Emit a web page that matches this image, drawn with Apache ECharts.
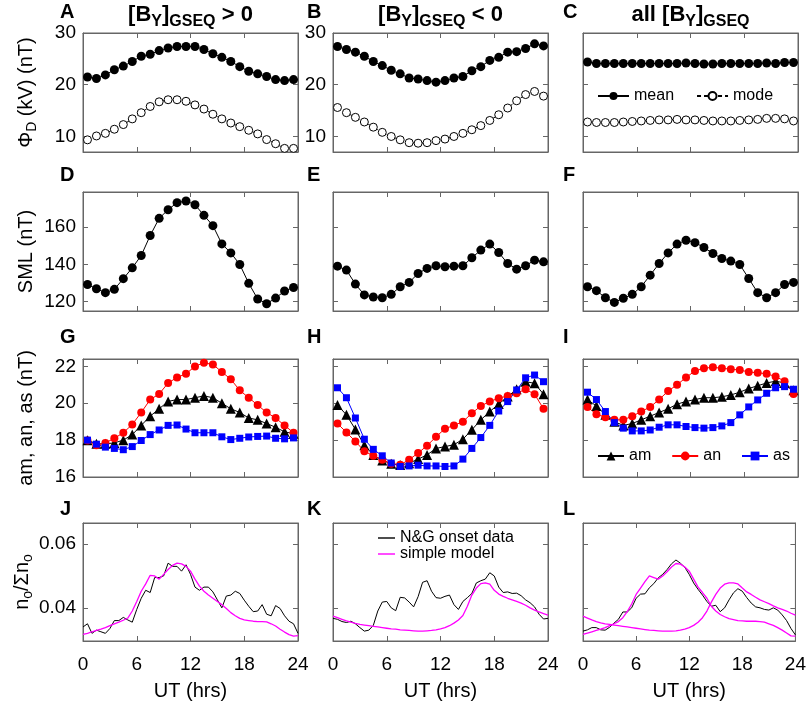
<!DOCTYPE html>
<html>
<head>
<meta charset="UTF-8">
<script src="https://cdn.jsdelivr.net/npm/echarts@6/dist/echarts.min.js"></script>
<style>
html,body{margin:0;padding:0;background:#fff;}
#chart{width:809px;height:705px;}
</style>
</head>
<body>
<div id="chart"></div>
<script>
// hour positions
var hourMid = [0.5,1.5,2.5,3.5,4.5,5.5,6.5,7.5,8.5,9.5,10.5,11.5,12.5,13.5,14.5,15.5,16.5,17.5,18.5,19.5,20.5,21.5,22.5,23.5];
var halfHour = [0,0.5,1,1.5,2,2.5,3,3.5,4,4.5,5,5.5,6,6.5,7,7.5,8,8.5,9,9.5,10,10.5,11,11.5,12,12.5,13,13.5,14,14.5,15,15.5,16,16.5,17,17.5,18,18.5,19,19.5,20,20.5,21,21.5,22,22.5,23,23.5,24];

// row 1: Phi_D mean / mode
var phiMeanPos = [21.5,21.2,21.9,22.9,23.6,24.5,25.5,25.9,26.6,27.1,27.4,27.4,27.4,26.8,26.0,25.3,24.5,23.5,22.6,22.1,21.6,21.0,20.8,21.0];
var phiModePos = [9.35,10.1,10.6,11.4,12.3,13.4,14.6,15.8,16.7,17.1,17.1,16.8,16.1,15.3,14.3,13.4,12.6,11.9,11.2,10.5,9.4,8.6,7.7,7.7];
var phiMeanNeg = [27.4,26.8,26.3,25.5,24.5,23.7,22.8,22.1,21.3,21.1,20.8,20.5,20.8,21.3,21.6,22.7,23.5,24.7,25.3,26.3,26.4,27.0,27.9,27.5];
var phiModeNeg = [15.6,14.6,13.7,12.8,11.8,10.8,10.0,9.35,8.8,8.7,8.8,9.2,9.5,10.0,10.6,11.3,12.1,13.1,14.2,15.5,16.9,18.1,18.7,17.8];
var phiMeanAll = [24.4,24.1,24.1,24.1,24.1,24.1,24.1,24.1,24.1,24.1,24.1,24.2,24.1,24.0,24.0,24.1,24.1,24.1,24.1,24.1,24.2,24.1,24.3,24.3];
var phiModeAll = [12.8,12.7,12.7,12.7,12.8,12.9,13.0,13.1,13.2,13.2,13.3,13.2,13.2,13.1,13.0,13.0,13.0,13.1,13.2,13.3,13.5,13.5,13.4,13.0];

// row 2: SML
var smlPos = [129.2,126.9,124.8,126.6,132.3,138.1,144.7,155.4,164.6,169.2,173.0,173.9,171.9,166.2,160.7,150.9,146.1,139.9,129.8,121.4,118.9,121.9,125.7,127.6];
var smlNeg = [139.0,136.9,129.4,123.6,122.5,122.1,123.9,128.0,130.3,135.1,137.8,139.2,138.7,139.0,139.2,143.5,147.6,150.8,146.3,140.4,137.4,139.2,142.2,141.3];
var smlAll = [128.0,125.9,122.1,119.6,121.8,123.9,128.0,134.2,140.4,146.1,150.8,152.9,151.6,149.0,145.8,143.1,141.7,139.9,132.4,124.8,122.1,124.8,129.2,130.3];

// row 3: am, an, as
var amPos = [18.0,17.8,17.8,17.85,18.0,18.3,18.8,19.3,19.7,20.1,20.2,20.2,20.3,20.4,20.3,20.0,19.7,19.5,19.2,19.1,18.9,18.7,18.45,18.35];
var anPos = [17.98,17.72,17.85,18.1,18.4,18.85,19.5,20.2,20.5,21.1,21.4,21.6,22.0,22.2,22.1,21.7,21.3,20.7,20.3,19.9,19.5,19.2,18.8,18.4];
var asPos = [18.0,17.78,17.62,17.55,17.48,17.65,17.98,18.3,18.55,18.8,18.82,18.6,18.4,18.4,18.4,18.18,18.03,18.1,18.17,18.2,18.22,18.1,18.07,18.12];
var amNeg = [19.9,19.37,18.58,17.72,17.2,16.9,16.72,16.65,16.75,16.97,17.2,17.55,17.65,17.75,18.05,18.56,19.1,19.55,19.96,20.36,20.76,21.17,21.08,20.49];
var anNeg = [18.9,18.42,17.93,17.4,17.15,16.94,16.72,16.66,16.94,17.3,17.7,18.18,18.62,18.8,19.0,19.46,19.85,20.1,20.27,20.4,20.54,20.76,20.49,19.7];
var asNeg = [20.84,20.3,19.2,18.05,17.5,17.15,16.76,16.57,16.6,16.64,16.6,16.6,16.57,16.6,16.97,17.55,18.14,18.8,19.58,20.09,20.72,21.38,21.53,21.17];
var amAll = [20.2,19.85,19.37,19.0,18.8,18.9,19.1,19.3,19.5,19.7,19.95,20.1,20.2,20.3,20.3,20.35,20.45,20.6,20.8,20.95,21.1,21.2,21.1,20.7];
var anAll = [19.8,19.4,19.24,19.1,19.1,19.3,19.55,19.8,20.2,20.66,21.0,21.4,21.75,21.9,21.95,21.9,21.85,21.8,21.7,21.65,21.6,21.45,21.2,20.5];
var asAll = [20.6,20.2,19.55,18.95,18.65,18.5,18.5,18.55,18.7,18.83,18.83,18.74,18.68,18.65,18.68,18.77,18.95,19.37,19.8,20.18,20.54,20.84,20.9,20.76];

// row 4: onset distributions (half-hour steps)
var ngPos = [0.034,0.035,0.032,0.033,0.0325,0.032,0.0335,0.036,0.036,0.037,0.0362,0.0355,0.0395,0.043,0.0455,0.0448,0.0495,0.0495,0.050,0.054,0.053,0.053,0.0515,0.0535,0.0505,0.0465,0.0455,0.0465,0.0465,0.045,0.0425,0.040,0.0437,0.044,0.0452,0.0445,0.0424,0.0405,0.0388,0.039,0.041,0.038,0.0375,0.0407,0.0398,0.0375,0.0358,0.035,0.032];
var modelPos = [0.0317,0.032,0.0325,0.0329,0.0333,0.0338,0.0344,0.035,0.0355,0.0361,0.0368,0.039,0.042,0.0452,0.0475,0.0502,0.050,0.049,0.0505,0.052,0.0533,0.054,0.0538,0.053,0.0515,0.049,0.0468,0.0452,0.044,0.043,0.042,0.041,0.0398,0.0385,0.0375,0.0367,0.0362,0.036,0.0358,0.0357,0.0357,0.0356,0.035,0.0343,0.0333,0.0324,0.0316,0.0311,0.0313];
var ngNeg = [0.0367,0.0364,0.0357,0.0354,0.0358,0.035,0.0338,0.0327,0.033,0.0345,0.039,0.0418,0.042,0.040,0.0391,0.0433,0.0431,0.0418,0.0403,0.0435,0.048,0.0485,0.0452,0.0432,0.043,0.0436,0.044,0.041,0.0395,0.042,0.0432,0.0445,0.0478,0.0485,0.049,0.051,0.050,0.0465,0.0448,0.045,0.0445,0.0446,0.0438,0.0425,0.0416,0.0403,0.038,0.0365,0.0367];
var modelNeg = [0.0374,0.0369,0.0364,0.0359,0.0355,0.0351,0.0348,0.0346,0.0344,0.0342,0.034,0.0338,0.0336,0.0334,0.0333,0.0331,0.033,0.0329,0.0328,0.0327,0.0327,0.0328,0.0329,0.0331,0.0334,0.0338,0.0344,0.0352,0.0362,0.0376,0.0405,0.044,0.0462,0.0476,0.0478,0.0474,0.0455,0.0443,0.0436,0.043,0.0425,0.042,0.0415,0.0408,0.04,0.0393,0.0387,0.0382,0.0377];
var ngAll = [0.0327,0.0331,0.0338,0.0338,0.0331,0.033,0.0339,0.0352,0.0364,0.0387,0.0387,0.040,0.043,0.0443,0.0444,0.0463,0.0476,0.0494,0.0505,0.052,0.0538,0.055,0.054,0.0527,0.0505,0.0478,0.0458,0.044,0.042,0.0405,0.0408,0.0388,0.040,0.0425,0.0447,0.046,0.0452,0.0432,0.0415,0.0403,0.040,0.0395,0.0393,0.040,0.0393,0.0378,0.036,0.0335,0.0315];
var modelAllPos = [0.0317,0.0321,0.0325,0.0329,0.0333,0.0338,0.0344,0.035,0.0357,0.0369,0.0388,0.0412,0.0442,0.0462,0.0482,0.050,0.0495,0.049,0.050,0.0513,0.0528,0.0539,0.0537,0.0528,0.0515,0.049,0.0465,0.0448,0.043,0.0405,0.039,0.0379,0.0372,0.0366,0.0363,0.036,0.0359,0.0358,0.0358,0.0358,0.0357,0.0355,0.035,0.0345,0.0338,0.033,0.0321,0.0312,0.0311];
var modelAllNeg = [0.0374,0.0368,0.0362,0.0357,0.0353,0.035,0.0348,0.0346,0.0344,0.0342,0.034,0.0338,0.0336,0.0334,0.0332,0.033,0.0329,0.0328,0.0327,0.0327,0.0327,0.0328,0.033,0.0333,0.0338,0.0345,0.0355,0.0369,0.039,0.0418,0.0442,0.0462,0.0474,0.0478,0.0478,0.0475,0.0462,0.045,0.0442,0.0433,0.0425,0.0419,0.0413,0.0406,0.04,0.0395,0.039,0.0383,0.0377];

var FONT = 'Liberation Sans, Arial, sans-serif';
var AXC = '#666';
var lefts = [83, 333, 583];
var tops = [33, 192, 359, 523];
var heights = [119, 119, 118, 118];
var yRange = [[7, 30], [115, 178.7], [16, 22.4], [0.0296, 0.0666]];
var yTicks = [[10, 20, 30], [120, 140, 160], [16, 18, 20, 22], [0.04, 0.06]];
var yNames = ['{m|\u03A6}{s|D}{m| (kV) (nT)}', '{m|SML (nT)}', '{m|am, an, as (nT)}', '{m|n}{s|o}{m|/\u03A3n}{s|o}'];

function pairs(xs, ys) {
	return xs.map(function (x, i) { return [x, ys[i]]; });
}

var grids = [], xAxes = [], yAxes = [], series = [];
for (var r = 0; r < 4; r++) {
	for (var c = 0; c < 3; c++) {
		var g = r * 3 + c;
		grids.push({left: lefts[c], top: tops[r], width: 215, height: heights[r], show: true, borderColor: AXC, borderWidth: 1, containLabel: false});
		var showY = (c === 0) || (r === 0 && c === 1);
		xAxes.push({
			type: 'value', gridIndex: g, min: 0, max: 24, interval: 6, position: 'bottom',
			axisLine: {show: true, onZero: false, lineStyle: {color: AXC}},
			axisTick: {show: true, inside: true, length: 5, lineStyle: {color: AXC}},
			axisLabel: {show: r === 3, margin: 14, fontSize: 19, color: '#000', fontFamily: FONT},
			splitLine: {show: false},
			name: r === 3 ? 'UT (hrs)' : '', nameLocation: 'middle', nameGap: 40,
			nameTextStyle: {fontSize: 20, color: '#000', fontFamily: FONT}
		});
		xAxes.push({
			type: 'value', gridIndex: g, min: 0, max: 24, interval: 6, position: 'top',
			axisLine: {show: true, onZero: false, lineStyle: {color: AXC}},
			axisTick: {show: true, inside: true, length: 5, lineStyle: {color: AXC}},
			axisLabel: {show: false}, splitLine: {show: false}
		});
		yAxes.push({
			type: 'value', gridIndex: g, min: yRange[r][0], max: yRange[r][1], position: 'left',
			axisLine: {show: true, onZero: false, lineStyle: {color: AXC}},
			axisTick: {show: true, inside: true, length: 5, customValues: yTicks[r], lineStyle: {color: AXC}},
			axisLabel: {show: showY, customValues: yTicks[r], margin: 7, fontSize: 19, color: '#000', fontFamily: FONT,
				formatter: r === 3 ? function (v) { return v.toFixed(2); } : null},
			splitLine: {show: false},
			name: c === 0 ? yNames[r] : '', nameLocation: 'middle', nameGap: 44, nameRotate: 90,
			nameTextStyle: {rich: {
				m: {fontSize: 20, fontFamily: FONT, color: '#000', lineHeight: 26},
				s: {fontSize: 14, fontFamily: FONT, color: '#000', lineHeight: 12, verticalAlign: 'bottom'}
			}}
		});
		yAxes.push({
			type: 'value', gridIndex: g, min: yRange[r][0], max: yRange[r][1], position: 'right',
			axisLine: {show: true, onZero: false, lineStyle: {color: AXC}},
			axisTick: {show: true, inside: true, length: 5, customValues: yTicks[r], lineStyle: {color: AXC}},
			axisLabel: {show: false}, splitLine: {show: false}
		});
	}
}

function meanSeries(g, ys) {
	return {name: 'mean', type: 'line', xAxisIndex: 2 * g, yAxisIndex: 2 * g, data: pairs(hourMid, ys),
		symbol: 'circle', symbolSize: 9, itemStyle: {color: '#000'}, lineStyle: {color: '#000', width: 1}};
}
function modeSeries(g, ys) {
	return {name: 'mode', type: 'line', xAxisIndex: 2 * g, yAxisIndex: 2 * g, data: pairs(hourMid, ys),
		symbol: 'circle', symbolSize: 8, itemStyle: {color: '#fff', borderColor: '#000', borderWidth: 1},
		lineStyle: {color: '#000', width: 1, type: [4, 3]}};
}
function smlSeries(g, ys) {
	return {name: 'SML', type: 'line', xAxisIndex: 2 * g, yAxisIndex: 2 * g, data: pairs(hourMid, ys),
		symbol: 'circle', symbolSize: 9, itemStyle: {color: '#000'}, lineStyle: {color: '#000', width: 1}};
}
function aSeries(g, name, ys) {
	var sty = {
		am: {symbol: 'triangle', size: 10, color: '#000'},
		an: {symbol: 'circle', size: 8, color: '#ff0000'},
		as: {symbol: 'rect', size: 7, color: '#0000ff'}
	}[name];
	return {name: name, type: 'line', xAxisIndex: 2 * g, yAxisIndex: 2 * g, data: pairs(hourMid, ys),
		symbol: sty.symbol, symbolSize: sty.size, itemStyle: {color: sty.color}, lineStyle: {color: sty.color, width: 1}};
}
function ngSeries(g, ys) {
	return {name: 'N&G onset data', type: 'line', xAxisIndex: 2 * g, yAxisIndex: 2 * g, data: pairs(halfHour, ys),
		symbol: 'none', itemStyle: {color: '#000'}, lineStyle: {color: '#000', width: 1}};
}
function modelSeries(g, ys) {
	return {name: 'simple model', type: 'line', xAxisIndex: 2 * g, yAxisIndex: 2 * g, data: pairs(halfHour, ys),
		symbol: 'none', itemStyle: {color: '#ff00ff'}, lineStyle: {color: '#ff00ff', width: 1.3}};
}

series.push(meanSeries(0, phiMeanPos), modeSeries(0, phiModePos));
series.push(meanSeries(1, phiMeanNeg), modeSeries(1, phiModeNeg));
series.push(meanSeries(2, phiMeanAll), modeSeries(2, phiModeAll));
series.push(smlSeries(3, smlPos), smlSeries(4, smlNeg), smlSeries(5, smlAll));
series.push(aSeries(6, 'am', amPos), aSeries(6, 'an', anPos), aSeries(6, 'as', asPos));
series.push(aSeries(7, 'am', amNeg), aSeries(7, 'an', anNeg), aSeries(7, 'as', asNeg));
series.push(aSeries(8, 'am', amAll), aSeries(8, 'an', anAll), aSeries(8, 'as', asAll));
series.push(ngSeries(9, ngPos), modelSeries(9, modelPos));
series.push(ngSeries(10, ngNeg), modelSeries(10, modelNeg));
series.push(ngSeries(11, ngAll), modelSeries(11, modelAllPos), modelSeries(11, modelAllNeg));

var legendText = {fontSize: 16, color: '#000', fontFamily: FONT};
var legends = [
	{data: ['mean', 'mode'], left: 597, top: 88, padding: 0, itemWidth: 31, itemHeight: 10, itemGap: 22, textStyle: legendText, selectedMode: false},
	{data: ['am', 'an', 'as'], left: 597, top: 448, padding: 0, itemWidth: 26, itemHeight: 11, itemGap: 20, textStyle: legendText, selectedMode: false},
	{data: [{name: 'N&G onset data', icon: 'rect'}, {name: 'simple model', icon: 'rect'}], orient: 'vertical', left: 378, top: 530, padding: 0,
		itemWidth: 17, itemHeight: 1.4, itemGap: 0,
		textStyle: {fontSize: 16, color: '#000', fontFamily: FONT, lineHeight: 14.5}, selectedMode: false}
];

// panel letters and column titles
var letterX = [60, 307, 563];
var letterY = [13, 176, 338, 510];
var letters = 'ABCDEFGHIJKL';
var graphics = [];
for (var i = 0; i < 12; i++) {
	graphics.push({type: 'text', left: letterX[i % 3], top: letterY[Math.floor(i / 3)] - 11,
		style: {text: letters[i], font: 'bold 20px ' + FONT, fill: '#000'}});
}
var titleRich = {
	m: {fontSize: 22, fontWeight: 'bold', fontFamily: FONT, color: '#000', lineHeight: 30},
	y: {fontSize: 16, fontWeight: 'bold', fontFamily: FONT, color: '#000', lineHeight: 17, verticalAlign: 'bottom'},
	g: {fontSize: 16, fontWeight: 'bold', fontFamily: FONT, color: '#000', lineHeight: 11, verticalAlign: 'bottom'}
};
var titles = ['{m|[B}{y|Y}{m|]}{g|GSEQ}{m| > 0}', '{m|[B}{y|Y}{m|]}{g|GSEQ}{m| < 0}', '{m|all [B}{y|Y}{m|]}{g|GSEQ}'];
for (var k = 0; k < 3; k++) {
	graphics.push({type: 'text', x: lefts[k] + 107.5, y: 15,
		style: {text: titles[k], rich: titleRich, align: 'center', verticalAlign: 'middle'}});
}

var myChart = echarts.init(document.getElementById('chart'));
myChart.setOption({
	animation: false,
	backgroundColor: '#fff',
	grid: grids,
	xAxis: xAxes,
	yAxis: yAxes,
	legend: legends,
	graphic: graphics,
	series: series
});
</script>
</body>
</html>
